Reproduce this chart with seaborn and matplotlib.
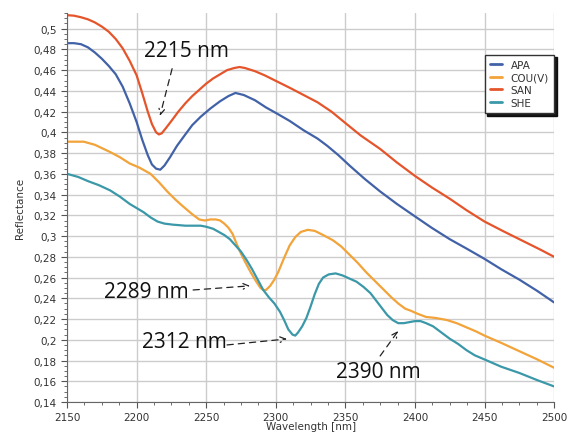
import seaborn as sns
import matplotlib.pyplot as plt
import pandas as pd
from matplotlib.ticker import MultipleLocator, FuncFormatter

# spectra
apa_wl = [2150, 2155, 2160, 2165, 2170, 2175, 2180, 2185, 2190, 2195, 2200, 2204, 2208, 2211, 2214,
          2217, 2220, 2224, 2229, 2235, 2240, 2246, 2253, 2260, 2266, 2271, 2277, 2285, 2293, 2301,
          2310, 2320, 2330, 2337, 2345, 2353, 2364, 2375, 2387, 2400, 2412, 2425, 2437, 2450, 2462,
          2475, 2488, 2500]
apa_r = [0.486, 0.486, 0.485, 0.482, 0.477, 0.471, 0.464, 0.456, 0.444, 0.428, 0.410, 0.393, 0.378, 0.369, 0.365,
         0.364, 0.368, 0.376, 0.387, 0.398, 0.407, 0.415, 0.423, 0.430, 0.435, 0.438, 0.436, 0.431, 0.424, 0.418,
         0.411, 0.402, 0.394, 0.387, 0.378, 0.368, 0.355, 0.343, 0.331, 0.319, 0.308, 0.297, 0.288, 0.278, 0.268,
         0.258, 0.247, 0.236]

cou_wl = [2150, 2156, 2162, 2170, 2181, 2188, 2195, 2202, 2210, 2216, 2222, 2228, 2233, 2240, 2245,
          2249, 2253, 2257, 2260, 2263, 2266, 2269, 2272, 2275, 2278, 2282, 2286, 2289, 2291, 2293,
          2296, 2299, 2302, 2306, 2310, 2314, 2318, 2323, 2328, 2334, 2341, 2347, 2353, 2359, 2365,
          2371, 2377, 2383, 2388, 2393, 2397, 2402, 2408, 2415, 2423, 2430, 2437, 2444, 2450, 2462,
          2475, 2488, 2500]
cou_r = [0.391, 0.391, 0.391, 0.388, 0.381, 0.376, 0.370, 0.366, 0.360, 0.352, 0.343, 0.335, 0.329, 0.321, 0.316,
         0.315, 0.316, 0.316, 0.315, 0.312, 0.308, 0.302, 0.292, 0.283, 0.275, 0.265, 0.256, 0.250, 0.248, 0.248,
         0.252, 0.258, 0.266, 0.279, 0.291, 0.299, 0.304, 0.306, 0.305, 0.301, 0.296, 0.290, 0.282, 0.274, 0.265,
         0.257, 0.249, 0.241, 0.235, 0.230, 0.228, 0.225, 0.222, 0.221, 0.219, 0.216, 0.212, 0.208, 0.204, 0.197,
         0.189, 0.181, 0.173]

san_wl = [2150, 2155, 2160, 2165, 2170, 2175, 2180, 2185, 2190, 2195, 2200, 2204, 2208, 2211, 2214,
          2216, 2218, 2221, 2225, 2230, 2235, 2240, 2245, 2250, 2255, 2260, 2265, 2270, 2274, 2278,
          2285, 2292, 2301, 2310, 2320, 2330, 2340, 2350, 2361, 2375, 2387, 2400, 2412, 2425, 2437,
          2450, 2463, 2478, 2490, 2500]
san_r = [0.513, 0.5125, 0.511, 0.509, 0.506, 0.502, 0.497, 0.490, 0.481, 0.469, 0.455, 0.438, 0.420, 0.408, 0.400,
         0.398, 0.399, 0.404, 0.411, 0.420, 0.428, 0.435, 0.441, 0.447, 0.452, 0.456, 0.460, 0.462, 0.463, 0.462,
         0.459, 0.455, 0.449, 0.443, 0.436, 0.429, 0.420, 0.409, 0.397, 0.384, 0.371, 0.358, 0.347, 0.336, 0.325,
         0.314, 0.305, 0.295, 0.287, 0.280]

she_wl = [2150, 2158, 2165, 2173, 2181, 2188, 2195, 2200, 2205, 2210, 2215, 2220, 2226, 2235, 2246,
          2250, 2255, 2259, 2263, 2267, 2271, 2275, 2279, 2283, 2287, 2291, 2295, 2299, 2303, 2306,
          2309, 2312, 2314, 2316, 2319, 2322, 2325, 2328, 2331, 2334, 2338, 2343, 2348, 2353, 2358,
          2363, 2368, 2372, 2376, 2380, 2384, 2388, 2392, 2396, 2400, 2404, 2408, 2413, 2419, 2425,
          2431, 2437, 2443, 2450, 2462, 2475, 2488, 2500]
she_r = [0.360, 0.357, 0.353, 0.349, 0.344, 0.338, 0.331, 0.327, 0.323, 0.318, 0.314, 0.312, 0.311, 0.310, 0.310,
         0.309, 0.307, 0.304, 0.301, 0.297, 0.291, 0.285, 0.277, 0.268, 0.258, 0.248, 0.241, 0.235, 0.227, 0.219,
         0.210, 0.205, 0.204, 0.207, 0.213, 0.221, 0.232, 0.244, 0.254, 0.260, 0.263, 0.264, 0.262, 0.259, 0.256,
         0.251, 0.245, 0.238, 0.231, 0.224, 0.219, 0.216, 0.216, 0.217, 0.218, 0.218, 0.216, 0.213, 0.207, 0.201,
         0.196, 0.190, 0.185, 0.181, 0.174, 0.168, 0.161, 0.155]

samples = ["APA", "COU(V)", "SAN", "SHE"]
colors = ["#4262a8", "#f2a33a", "#e5552b", "#3b98a9"]

# band labels: label centre, arrow start, arrow tip
bands = ["2215 nm", "2289 nm", "2312 nm", "2390 nm"]
band_text_xy = [(2235.5, 0.4787), (2207, 0.247), (2234, 0.1988), (2374, 0.1692)]
band_tail_xy = [(2225.5, 0.4614), (2240.6, 0.248), (2265, 0.195), (2375, 0.1844)]
band_tip_xy = [(2216.8, 0.416), (2281.5, 0.252), (2308, 0.2008), (2388, 0.2085)]

df = pd.concat([
    pd.DataFrame({"wl": apa_wl, "r": apa_r, "sample": "APA"}),
    pd.DataFrame({"wl": cou_wl, "r": cou_r, "sample": "COU(V)"}),
    pd.DataFrame({"wl": san_wl, "r": san_r, "sample": "SAN"}),
    pd.DataFrame({"wl": she_wl, "r": she_r, "sample": "SHE"}),
])

sns.set_style("whitegrid", {"grid.color": "#cccccc", "axes.edgecolor": "#666666",
                            "xtick.bottom": True, "ytick.left": True})
plt.rcParams.update({"xtick.major.size": 4, "ytick.major.size": 4,
                     "xtick.minor.size": 2, "ytick.minor.size": 2,
                     "xtick.color": "#555555", "ytick.color": "#555555"})

fig = plt.figure(figsize=(5.73, 4.35), dpi=100)
ax = fig.add_axes([0.117, 0.0736, 0.850, 0.894])

sns.lineplot(data=df, x="wl", y="r", hue="sample", hue_order=samples,
             palette=dict(zip(samples, colors)), sort=False, estimator=None,
             linewidth=1.6, ax=ax)

ax.set_xlim(2150, 2500)
ax.set_ylim(0.14, 0.515)
ax.xaxis.set_major_locator(MultipleLocator(50))
ax.xaxis.set_minor_locator(MultipleLocator(12.5))
ax.yaxis.set_major_locator(MultipleLocator(0.02))
ax.yaxis.set_minor_locator(MultipleLocator(0.005))
ax.yaxis.set_major_formatter(FuncFormatter(
    lambda v, p: f"{v:.2f}".rstrip("0").rstrip(".").replace(".", ",")))
ax.grid(True, which="major", linewidth=1.0)
ax.grid(False, which="minor")
ax.tick_params(which="major", length=4, width=0.8, color="#555555", labelsize=7.5,
               labelcolor="#333333", bottom=True, left=True)
ax.tick_params(which="minor", length=2, width=0.6, color="#555555", bottom=True, left=True)
for s in ["top", "right"]:
    ax.spines[s].set_visible(False)

ax.set_xlabel("Wavelength [nm]", fontsize=7.5, color="#333333", labelpad=-1)
ax.set_ylabel("Reflectance", fontsize=7.5, color="#333333", labelpad=6)

leg = ax.legend(loc="upper right", bbox_to_anchor=(1.0, 0.893), borderaxespad=0,
                frameon=True, fancybox=False, shadow={"color": "black", "alpha": 0.9},
                fontsize=7.5, handlelength=1.2, labelspacing=0.25, borderpad=0.5)
leg.get_frame().set_edgecolor("#333333")
for t in leg.get_texts():
    t.set_color("#333333")
for h in leg.get_lines():
    h.set_linewidth(2)

for txt, xy_t, xy_s, xy_a in zip(bands, band_text_xy, band_tail_xy, band_tip_xy):
    ax.text(*xy_t, txt, fontsize=15, family="Open Sans", color="#111111",
            ha="center", va="center")
    ax.annotate("", xy=xy_a, xytext=xy_s,
                arrowprops=dict(arrowstyle="->", linestyle=(0, (5, 4)), color="#222222",
                                lw=0.9, shrinkA=0, shrinkB=0))

fig.savefig("out.png", dpi=100)
